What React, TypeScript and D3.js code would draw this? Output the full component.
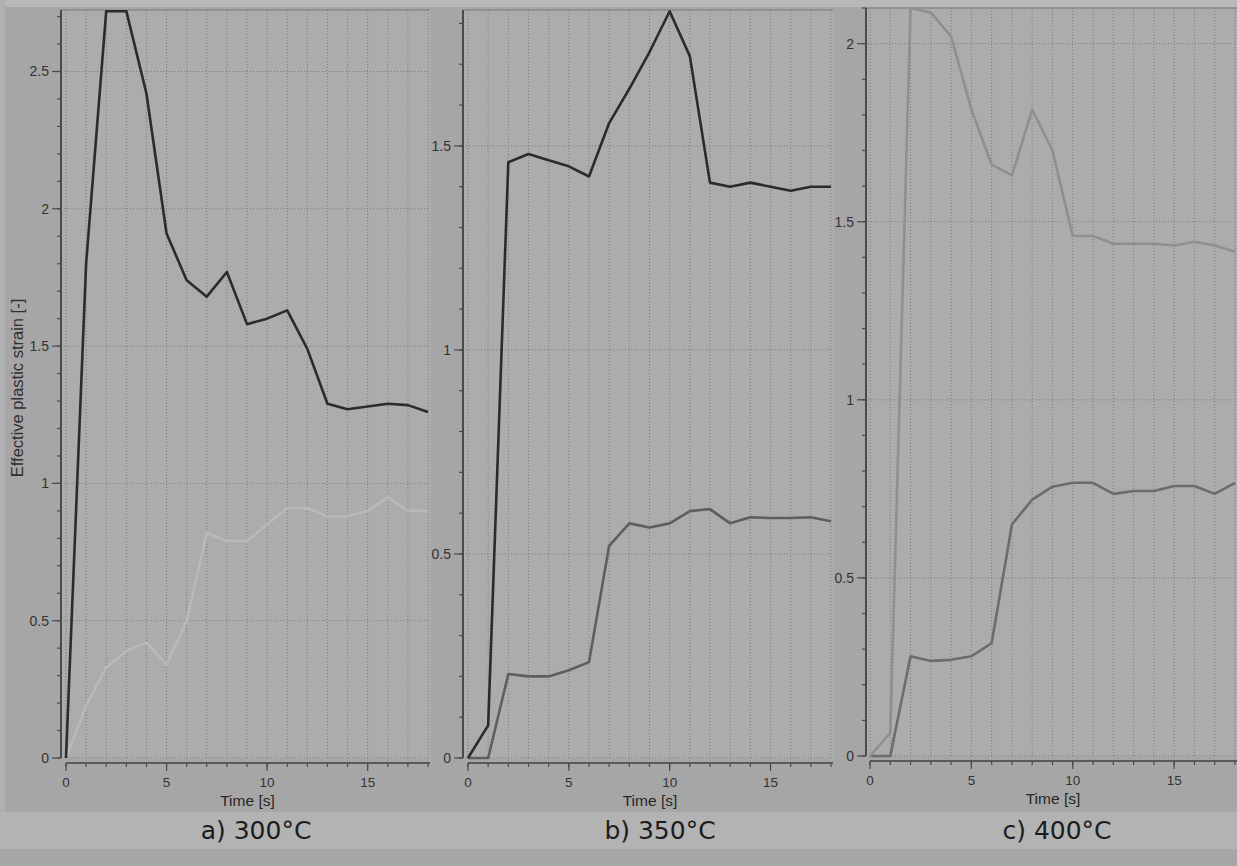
import * as d3 from "d3";

// time steps [s]
const time = [0, 1, 2, 3, 4, 5, 6, 7, 8, 9, 10, 11, 12, 13, 14, 15, 16, 17, 18];

// 300°C
const strain300Dark = [0, 1.8, 2.72, 2.72, 2.42, 1.91, 1.74, 1.68, 1.77, 1.58, 1.6, 1.63, 1.49, 1.29, 1.27, 1.28, 1.29, 1.285, 1.26];
const strain300Light = [0, 0.19, 0.33, 0.39, 0.42, 0.34, 0.5, 0.82, 0.79, 0.79, 0.85, 0.91, 0.91, 0.88, 0.88, 0.9, 0.95, 0.9, 0.9];

// 350°C
const strain350Dark = [0, 0.08, 1.46, 1.48, 1.465, 1.45, 1.425, 1.556, 1.64, 1.73, 1.83, 1.72, 1.41, 1.4, 1.41, 1.4, 1.39, 1.4, 1.4];
const strain350Mid = [0, 0, 0.206, 0.2, 0.2, 0.215, 0.235, 0.52, 0.575, 0.565, 0.575, 0.605, 0.61, 0.575, 0.59, 0.588, 0.588, 0.59, 0.58];

// 400°C
const strain400Light = [0, 0.065, 2.1, 2.087, 2.02, 1.815, 1.66, 1.63, 1.815, 1.7, 1.46, 1.46, 1.438, 1.438, 1.438, 1.433, 1.444, 1.433, 1.416];
const strain400Mid = [0, 0, 0.28, 0.267, 0.27, 0.28, 0.317, 0.65, 0.72, 0.756, 0.767, 0.767, 0.736, 0.744, 0.744, 0.758, 0.758, 0.736, 0.767];

const yTicks300 = [0, 0.5, 1, 1.5, 2, 2.5];
const yTicks350 = [0, 0.5, 1, 1.5];
const yTicks400 = [0, 0.5, 1, 1.5, 2];
const xTicks = [0, 5, 10, 15];
const captions = ["a) 300°C", "b) 350°C", "c) 400°C"];

const W = 1237;
const H = 866;
const tickFont = "'Liberation Sans', Arial, sans-serif";

type Series = { values: number[]; color: string };

type PanelProps = {
  id: string;
  axisX: number;
  left: number;
  right: number;
  top: number;
  zero: number;
  yMax: number;
  yTicks: number[];
  series: Series[];
  caption: string;
  captionX: number;
  yLabel?: string;
};

const Panel = (p: PanelProps) => {
  const x = d3.scaleLinear().domain([0, 18.05]).range([p.left, p.right]);
  const y = d3.scaleLinear().domain([0, p.yMax]).range([p.zero, p.top]);
  const line = d3
    .line<number>()
    .x((_, i) => x(time[i]))
    .y((d) => y(d));
  // minor ticks every 0.1
  const minorY = d3.range(0, Math.round(p.yMax * 10) + 1).map((k) => k / 10).filter((v) => v <= p.yMax);
  const xAxisY = p.zero + 5;

  return (
    <g>
      <defs>
        <clipPath id={`clip-${p.id}`}>
          <rect x={p.left - 2} y={p.top} width={p.right - p.left + 4} height={p.zero - p.top + 2} />
        </clipPath>
      </defs>
      {/* plot area */}
      <rect x={p.axisX + 1} y={p.top} width={p.right - p.axisX + 1} height={p.zero - p.top + 1} fill="#acacac" />
      <line x1={p.axisX} x2={p.right + 1} y1={p.top} y2={p.top} stroke="#8a8a8a" strokeWidth={1.5} />

      {/* grid */}
      {time.map((t) => (
        <line key={`gx${t}`} x1={x(t)} x2={x(t)} y1={p.top} y2={p.zero} stroke="#7a7a7a" strokeWidth={1} strokeDasharray="1,2" />
      ))}
      {p.yTicks.map((v) => (
        <line key={`gy${v}`} x1={p.left - 2} x2={p.right} y1={y(v)} y2={y(v)} stroke="#7a7a7a" strokeWidth={1} strokeDasharray="1,2" />
      ))}

      {/* y axis */}
      <line x1={p.axisX} x2={p.axisX} y1={p.top} y2={p.zero} stroke="#4a4a4a" strokeWidth={2} />
      {minorY.map((v) => (
        <line key={`my${v}`} x1={p.axisX - 4} x2={p.axisX} y1={y(v)} y2={y(v)} stroke="#4a4a4a" strokeWidth={1.2} />
      ))}
      {p.yTicks.map((v) => (
        <g key={`ty${v}`}>
          <line x1={p.axisX - 9} x2={p.axisX} y1={y(v)} y2={y(v)} stroke="#4a4a4a" strokeWidth={1.2} />
          <text x={p.axisX - 12} y={y(v)} dy="0.35em" textAnchor="end" fontSize={14} fontFamily={tickFont} fill="#333">
            {v}
          </text>
        </g>
      ))}

      {/* x axis */}
      <line x1={p.left} x2={p.right + 1} y1={xAxisY} y2={xAxisY} stroke="#5a5a5a" strokeWidth={2} />
      {time.map((t) => (
        <line key={`mx${t}`} x1={x(t)} x2={x(t)} y1={xAxisY} y2={xAxisY + 4} stroke="#4a4a4a" strokeWidth={1.2} />
      ))}
      {xTicks.map((t) => (
        <g key={`tx${t}`}>
          <line x1={x(t)} x2={x(t)} y1={xAxisY} y2={xAxisY + 8} stroke="#4a4a4a" strokeWidth={1.2} />
          <text x={x(t)} y={xAxisY + 24} textAnchor="middle" fontSize={13.5} fontFamily={tickFont} fill="#333">
            {t}
          </text>
        </g>
      ))}
      <text x={(p.left + p.right) / 2} y={xAxisY + 43} textAnchor="middle" fontSize={15.5} fontFamily={tickFont} fill="#262626">
        Time [s]
      </text>

      {p.yLabel && (
        <text
          transform={`translate(23,${(p.top + p.zero) / 2 + 4}) rotate(-90)`}
          textAnchor="middle"
          fontSize={16.5}
          fontFamily={tickFont}
          fill="#303030"
        >
          {p.yLabel}
        </text>
      )}

      {/* curves */}
      <g clipPath={`url(#clip-${p.id})`}>
        {p.series.map((s, i) => (
          <path key={i} d={line(s.values) || ""} fill="none" stroke={s.color} strokeWidth={2.6} strokeLinejoin="round" />
        ))}
      </g>

      <text x={p.captionX} y={839} textAnchor="middle" fontSize={25} fontFamily="'DejaVu Sans', Verdana, sans-serif" fill="#1c1c1c">
        {p.caption}
      </text>
    </g>
  );
};

export default function App() {
  return (
    <div style={{ position: "absolute", left: 0, top: 0 }}>
      <svg width={W} height={H} style={{ display: "block" }}>
        <rect x={0} y={0} width={W} height={H} fill="#a6a6a6" />
        <rect x={0} y={0} width={W} height={7} fill="#b8b8b8" />
        <rect x={0} y={0} width={5} height={812} fill="#b0b0b0" />
        <rect x={0} y={812} width={W} height={37} fill="#b3b3b3" />

        <Panel
          id="a"
          axisX={61}
          left={66}
          right={429}
          top={10}
          zero={758}
          yMax={2.724}
          yTicks={yTicks300}
          series={[
            { values: strain300Light, color: "#b9b9b9" },
            { values: strain300Dark, color: "#2b2b2b" },
          ]}
          caption={captions[0]}
          captionX={256}
          yLabel="Effective plastic strain [-]"
        />
        <Panel
          id="b"
          axisX={463}
          left={468}
          right={832}
          top={10}
          zero={758}
          yMax={1.833}
          yTicks={yTicks350}
          series={[
            { values: strain350Mid, color: "#5e5e5e" },
            { values: strain350Dark, color: "#2b2b2b" },
          ]}
          caption={captions[1]}
          captionX={660}
        />
        <Panel
          id="c"
          axisX={866}
          left={870}
          right={1236}
          top={8}
          zero={756}
          yMax={2.1}
          yTicks={yTicks400}
          series={[
            { values: strain400Mid, color: "#6c6c6c" },
            { values: strain400Light, color: "#8f8f8f" },
          ]}
          caption={captions[2]}
          captionX={1057}
        />
      </svg>
    </div>
  );
}
